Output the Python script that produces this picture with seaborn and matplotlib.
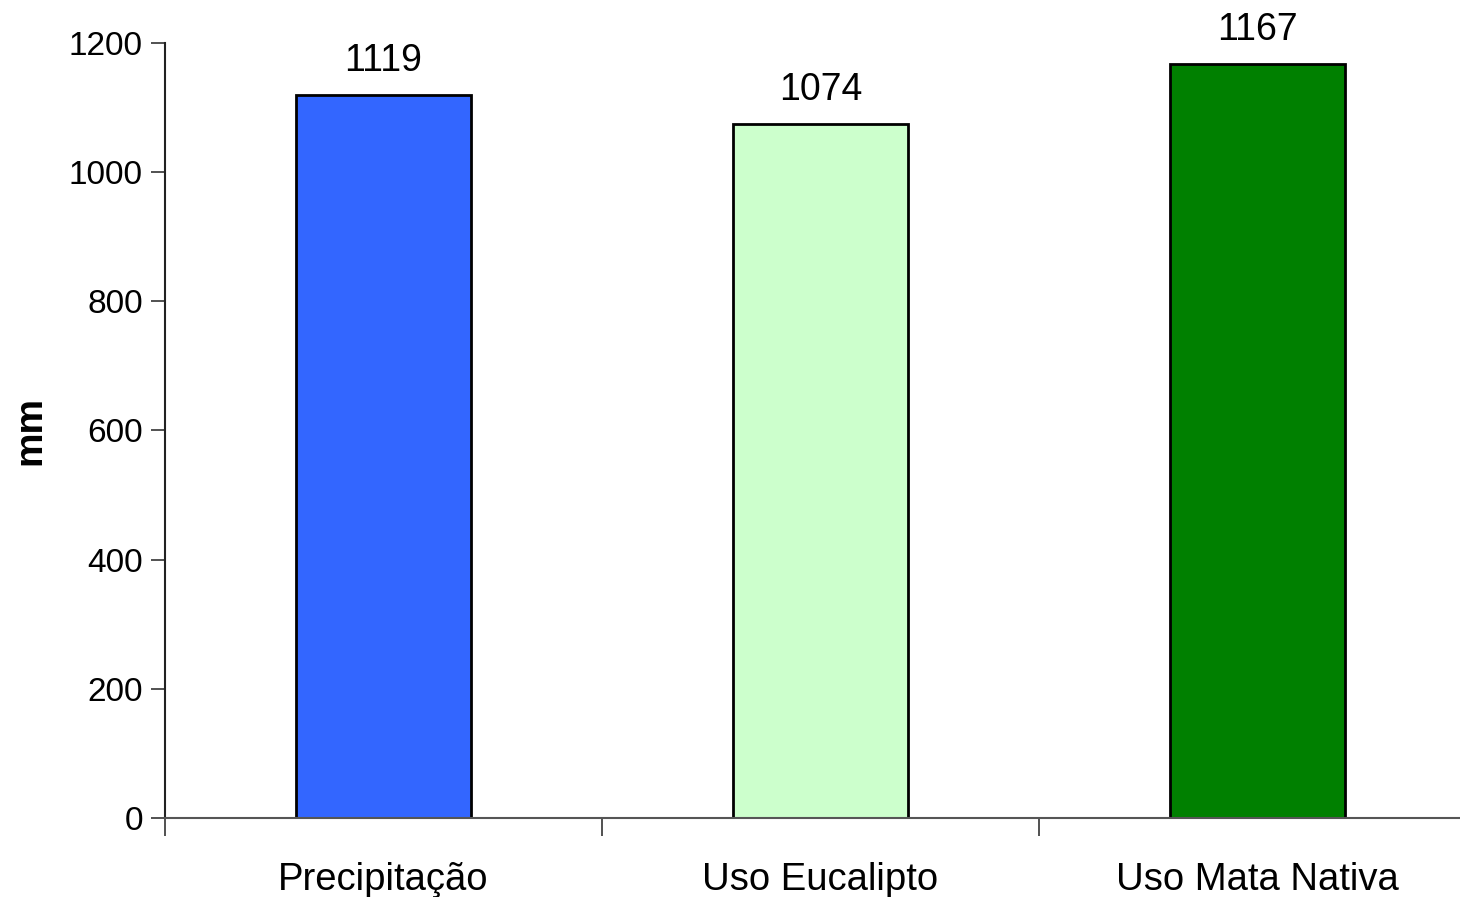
import matplotlib
matplotlib.use("Agg")
import matplotlib.pyplot as plt
import seaborn as sns
import pandas as pd
from matplotlib.ticker import FixedLocator

categorias = ["Precipitação", "Uso Eucalipto", "Uso Mata Nativa"]
valores_mm = [1119, 1074, 1167]
cores = ["#3366FF", "#CCFFCC", "#008000"]
yticks = [0, 200, 400, 600, 800, 1000, 1200]

sns.set_style("white")
plt.rcParams["font.family"] = ["Liberation Sans", "DejaVu Sans"]
plt.rcParams["text.color"] = "black"
plt.rcParams["xtick.color"] = "black"
plt.rcParams["ytick.color"] = "black"
plt.rcParams["axes.labelcolor"] = "black"

df = pd.DataFrame({"categoria": categorias, "mm": valores_mm})

fig = plt.figure(figsize=(14.6, 8.97), dpi=100)
ax = fig.add_axes([165 / 1460, 79 / 897, 1311 / 1460, 775 / 897])

sns.barplot(data=df, x="categoria", y="mm", hue="categoria", palette=cores,
            width=0.4, edgecolor="black", linewidth=2, legend=False, ax=ax,
            saturation=1)

ax.set_xlim(-0.5, 2.5)
ax.set_ylim(0, 1200)
ax.set_yticks(yticks)
ax.set_yticklabels([str(v) for v in yticks], fontsize=24)

# category labels centred, tick marks at the category boundaries
ax.set_xticks(range(len(categorias)))
ax.set_xticklabels(categorias, fontsize=27.5)
ax.xaxis.set_minor_locator(FixedLocator([-0.5, 0.5, 1.5, 2.5]))
ax.tick_params(axis="x", which="major", length=0, pad=32)
ax.tick_params(axis="x", which="minor", length=13, width=1.2, color="#333333",
               direction="out", bottom=True)
ax.tick_params(axis="y", which="major", length=10, width=1.2, color="#333333",
               direction="out", left=True, pad=6)

ax.set_xlabel("")
ax.set_ylabel("mm", fontsize=28, fontweight="bold", labelpad=15)

for side in ["top", "right"]:
    ax.spines[side].set_visible(False)
ax.spines["left"].set_color("#222222")
ax.spines["left"].set_linewidth(1.5)
ax.spines["bottom"].set_color("#555555")
ax.spines["bottom"].set_linewidth(1.5)

for container in ax.containers:
    ax.bar_label(container, fmt="%d", fontsize=27, padding=12)

fig.savefig("out.png", dpi=100, facecolor="white")
